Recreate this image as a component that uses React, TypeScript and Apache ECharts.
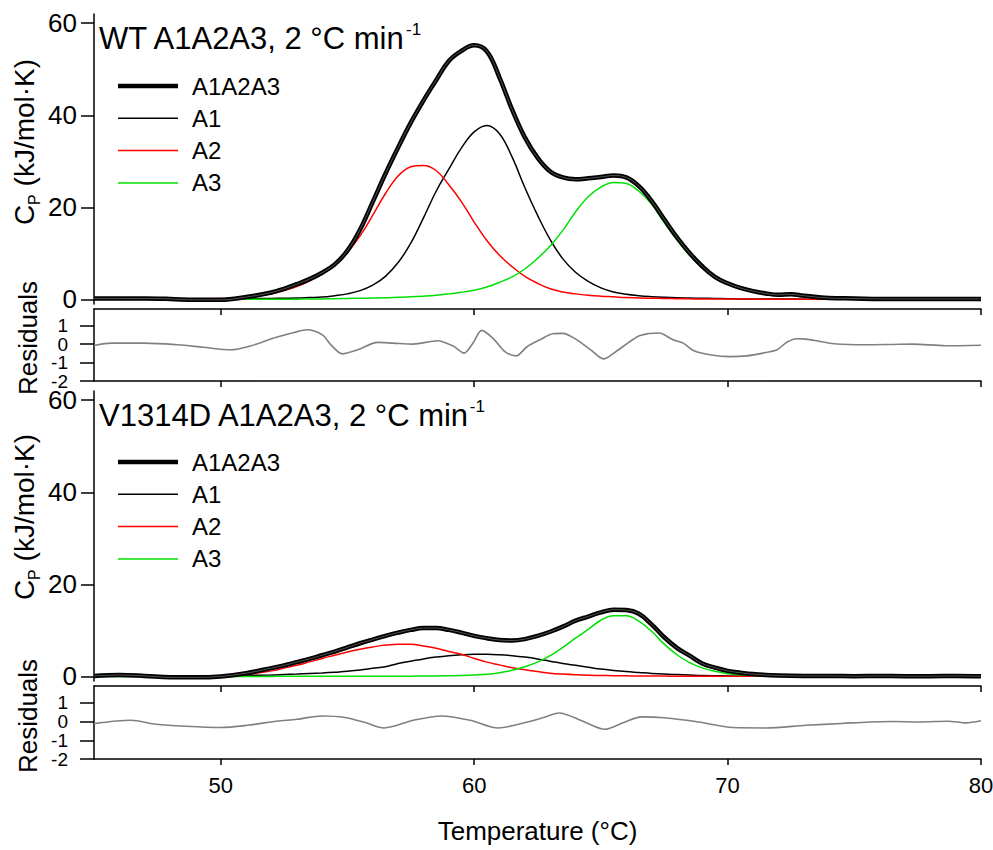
import React, { useEffect, useRef } from 'react';
import * as echarts from 'echarts';

const FONT = "'Liberation Sans', Arial, Helvetica, sans-serif";

// ---- tick labels ----
const xTicks = [50, 60, 70, 80];
const cpTicks = [0, 20, 40, 60];
const resTicks = [-2, -1, 0, 1];
const resLabelsOdd = [-1, 1];
const resLabelsEven = [-2, 0];
const legendNames = ['A1A2A3', 'A1', 'A2', 'A3'];
const panelTitles = ['WT A1A2A3, 2 °C min', 'V1314D A1A2A3, 2 °C min'];

// ---- WT panel (top) ----
const tWT = [45, 46, 47, 48, 49, 50, 51, 52, 52.5, 53, 53.5, 54, 54.5, 55, 55.5, 56, 56.5, 57, 57.5, 58, 58.5, 59, 59.5, 60, 60.5, 61, 61.5, 62, 62.5, 63, 63.5, 64, 64.5, 65, 65.5, 66, 66.5, 67, 67.5, 68, 68.5, 69, 69.5, 70, 70.5, 71, 71.5, 72, 72.5, 73, 74, 75, 76, 77, 78, 79, 80];
const wtTotal = [0.2, 0.2, 0.2, 0.1, -0.1, -0.1, 0.5, 1.5, 2.3, 3.3, 4.4, 5.8, 7.6, 10.6, 15.2, 21.2, 27.3, 33.0, 38.4, 43.2, 47.6, 51.8, 54.0, 55.2, 53.9, 48.2, 41.2, 35.2, 30.8, 27.8, 26.5, 26.1, 26.3, 26.6, 26.9, 26.5, 24.6, 21.4, 17.4, 13.5, 10.1, 7.2, 4.9, 3.5, 2.5, 1.8, 1.3, 1.0, 1.1, 0.8, 0.3, 0.2, 0.1, 0.1, 0.1, 0.1, 0.1];
const wtA1 = [0.1, 0.1, 0.1, 0.1, 0.1, 0.1, 0.15, 0.2, 0.25, 0.3, 0.4, 0.5, 0.8, 1.2, 1.9, 3.1, 5.0, 8.0, 12.2, 17.7, 23.5, 28.3, 32.9, 36.4, 37.8, 36.0, 30.9, 24.3, 18.3, 13.0, 8.8, 5.9, 3.9, 2.5, 1.6, 1.1, 0.8, 0.6, 0.45, 0.35, 0.3, 0.25, 0.2, 0.15, 0.1, 0.1, 0.1, 0.1, 0.08, 0.05, 0.05, 0.05, 0.05, 0.05, 0.05, 0.05, 0.05];
const wtA2 = [0.02, 0.03, 0.05, 0.08, 0.12, 0.2, 0.45, 1.2, 1.9, 2.8, 4.0, 5.5, 7.4, 10.2, 13.8, 18.3, 23.0, 26.8, 28.8, 29.1, 28.0, 24.9, 21.2, 16.8, 12.8, 9.6, 7.1, 5.0, 3.5, 2.3, 1.6, 1.2, 0.9, 0.7, 0.55, 0.4, 0.3, 0.25, 0.2, 0.15, 0.12, 0.1, 0.1, 0.08, 0.07, 0.06, 0.05, 0.05, 0.05, 0.05, 0.04, 0.04, 0.04, 0.04, 0.04, 0.04, 0.04];
const wtA3 = [0.02, 0.02, 0.02, 0.02, 0.02, 0.02, 0.02, 0.02, 0.03, 0.05, 0.08, 0.1, 0.15, 0.2, 0.25, 0.3, 0.35, 0.45, 0.55, 0.7, 0.9, 1.2, 1.55, 2.0, 2.7, 3.7, 4.9, 6.6, 8.9, 11.6, 15.0, 19.0, 22.3, 24.4, 25.4, 25.2, 23.5, 20.7, 16.7, 12.9, 9.6, 6.8, 4.7, 3.3, 2.4, 1.8, 1.4, 1.1, 0.9, 0.7, 0.4, 0.25, 0.15, 0.1, 0.08, 0.06, 0.05];
const wtResT = [45, 45.7, 47, 48.3, 49.3, 50.4, 51.2, 52.1, 52.9, 53.4, 54.0, 54.35, 54.8, 55.4, 56.2, 56.8, 57.6, 58.55, 59.2, 59.6, 59.95, 60.3, 60.8, 61.2, 61.65, 62.1, 62.6, 63.1, 63.5, 64.05, 64.6, 65.1, 65.6, 66.15, 66.55, 67.3, 67.85, 68.25, 68.65, 69.3, 70.1, 70.75, 71.4, 71.95, 72.35, 72.75, 73.1, 73.65, 74.3, 75.4, 76.5, 77.3, 78.6, 80];
const wtRes = [-0.08, 0.05, 0.05, -0.04, -0.17, -0.31, -0.09, 0.33, 0.63, 0.78, 0.51, -0.04, -0.53, -0.31, 0.09, 0.05, 0.0, 0.18, -0.13, -0.49, 0.05, 0.74, 0.23, -0.4, -0.64, -0.13, 0.23, 0.56, 0.58, 0.23, -0.31, -0.8, -0.4, 0.14, 0.47, 0.6, 0.23, 0.05, -0.35, -0.58, -0.68, -0.64, -0.49, -0.31, 0.11, 0.29, 0.27, 0.14, 0.0, -0.04, -0.02, 0.0, -0.09, -0.06];

// ---- V1314D panel (bottom) ----
const tV = [45, 46, 47, 48, 49, 50, 51, 52, 52.5, 53, 53.5, 54, 54.5, 55, 55.5, 56, 56.5, 57, 57.5, 58, 58.5, 59, 59.5, 60, 60.5, 61, 61.5, 62, 62.5, 63, 63.5, 64, 64.5, 65, 65.5, 66, 66.5, 67, 67.5, 68, 68.5, 69, 69.5, 70, 70.5, 71, 72, 73, 74, 75, 76, 77, 78, 79, 80];
const vTotal = [0.1, 0.3, 0.1, -0.2, -0.2, 0.0, 0.7, 1.8, 2.4, 3.1, 3.8, 4.6, 5.4, 6.3, 7.2, 8.0, 8.8, 9.5, 10.1, 10.5, 10.5, 10.1, 9.5, 8.8, 8.3, 7.9, 7.8, 8.1, 8.8, 9.7, 10.8, 12.1, 13.0, 13.9, 14.5, 14.4, 13.6, 11.3, 8.5, 6.2, 4.5, 2.8, 1.9, 1.2, 0.8, 0.5, 0.2, 0.1, 0.1, 0.05, 0.1, 0.05, 0.05, 0.1, 0.05];
const vA1 = [0.05, 0.05, 0.06, 0.07, 0.08, 0.1, 0.2, 0.3, 0.4, 0.5, 0.62, 0.75, 0.92, 1.1, 1.4, 1.75, 2.1, 2.8, 3.3, 3.8, 4.2, 4.5, 4.7, 4.8, 4.8, 4.7, 4.5, 4.2, 3.8, 3.3, 2.8, 2.4, 2.0, 1.6, 1.3, 1.05, 0.85, 0.65, 0.5, 0.4, 0.3, 0.2, 0.15, 0.12, 0.1, 0.08, 0.05, 0.05, 0.05, 0.05, 0.05, 0.05, 0.05, 0.05, 0.05];
const vA2 = [0.02, 0.02, 0.03, 0.04, 0.05, 0.1, 0.35, 1.2, 1.8, 2.4, 3.15, 3.9, 4.6, 5.3, 5.9, 6.4, 6.8, 7.0, 7.0, 6.6, 6.1, 5.4, 4.8, 3.9, 3.1, 2.5, 1.9, 1.45, 1.05, 0.7, 0.5, 0.35, 0.25, 0.2, 0.15, 0.12, 0.1, 0.08, 0.07, 0.05, 0.05, 0.05, 0.05, 0.05, 0.05, 0.05, 0.05, 0.05, 0.05, 0.05, 0.05, 0.05, 0.05, 0.05, 0.05];
const vA3 = [0.0, 0.0, 0.0, 0.0, 0.0, 0.0, 0.0, 0.0, 0.01, 0.01, 0.01, 0.01, 0.02, 0.02, 0.02, 0.03, 0.03, 0.04, 0.05, 0.08, 0.1, 0.15, 0.2, 0.3, 0.45, 0.8, 1.35, 2.1, 3.1, 4.5, 6.3, 8.3, 10.2, 12.2, 13.2, 13.2, 12.0, 9.8, 7.0, 4.7, 3.0, 1.85, 1.1, 0.6, 0.35, 0.2, 0.1, 0.05, 0.05, 0.05, 0.05, 0.05, 0.05, 0.05, 0.05];
const vResT = [45, 46.45, 47.45, 48.6, 50, 51.05, 52.2, 53.0, 54.0, 54.9, 55.7, 56.45, 57.6, 58.7, 59.85, 60.95, 62.1, 62.7, 63.35, 64.35, 65.15, 65.9, 66.6, 67.5, 68.85, 70.2, 71.5, 73.1, 74.5, 75.6, 76.5, 77.6, 78.7, 79.4, 80];
const vRes = [-0.11, 0.07, -0.14, -0.25, -0.32, -0.2, 0.02, 0.12, 0.3, 0.22, -0.05, -0.34, 0.07, 0.3, 0.07, -0.34, -0.02, 0.2, 0.46, -0.02, -0.41, -0.05, 0.25, 0.2, -0.02, -0.32, -0.34, -0.2, -0.1, -0.02, 0.0, -0.02, 0.02, -0.07, 0.04];

const pairs = (t: number[], v: number[]) => t.map((x, i) => [x, v[i]]);

const COLORS = { total: '#000000', a1: '#000000', a2: '#ff0000', a3: '#00e000', res: '#808080' };

function buildOption() {
  const L = 94, R = 12;
  const grids = [
    { left: L, right: R, top: 14, height: 290 },
    { left: L, right: R, top: 309, height: 72 },
    { left: L, right: R, top: 391, height: 290 },
    { left: L, right: R, top: 686, height: 73 },
  ].map((g) => ({ ...g, outerBoundsMode: 'none', containLabel: false }));

  const axisLine = { show: true, onZero: false, lineStyle: { color: '#000', width: 1.5 } };
  const tickStyle = { color: '#000', width: 1.5 };
  const baseX = {
    type: 'value', min: 45, max: 80, splitLine: { show: false },
    axisLine, axisLabel: { show: false },
  };
  const xAxis = [
    { ...baseX, gridIndex: 0, show: false },
    { ...baseX, gridIndex: 1, position: 'top', axisTick: { inside: true, length: 6, customValues: xTicks, lineStyle: tickStyle } },
    { ...baseX, gridIndex: 1, position: 'bottom', axisTick: { inside: false, length: 6, customValues: xTicks, lineStyle: tickStyle } },
    { ...baseX, gridIndex: 2, show: false },
    { ...baseX, gridIndex: 3, position: 'top', axisTick: { inside: true, length: 6, customValues: xTicks, lineStyle: tickStyle } },
    {
      ...baseX, gridIndex: 3, position: 'bottom',
      axisTick: { inside: false, length: 6, customValues: xTicks, lineStyle: tickStyle },
      axisLabel: { show: true, customValues: xTicks, fontSize: 22, fontFamily: FONT, color: '#000', margin: 15, showMinLabel: true, showMaxLabel: true },
      name: 'Temperature (°C)', nameLocation: 'middle', nameGap: 59,
      nameTextStyle: { fontSize: 26, fontFamily: FONT, color: '#000' },
    },
  ];
  const cpY = (g: number) => ({
    type: 'value', gridIndex: g, position: 'left', min: -1, max: 62, splitLine: { show: false }, axisLine,
    axisTick: { show: true, length: 13, customValues: cpTicks, lineStyle: tickStyle },
    axisLabel: { customValues: cpTicks, fontSize: 26, lineHeight: 20, fontFamily: FONT, color: '#000', margin: 17, showMinLabel: true, showMaxLabel: true },
  });
  // residual axis carrying the line, ticks and every other label
  const resY = (g: number) => ({
    type: 'value', gridIndex: g, position: 'left', offset: 0, min: -2, max: 1.9, splitLine: { show: false }, axisLine,
    axisTick: { show: true, length: 14, customValues: resTicks, lineStyle: tickStyle },
    axisLabel: {
      customValues: resLabelsOdd, fontSize: 19, lineHeight: 15, fontFamily: FONT, color: '#000', margin: 26,
      showMinLabel: true, showMaxLabel: true,
    },
  });
  // twin residual axis (same side) carrying the remaining labels
  const resY2 = (g: number) => ({
    type: 'value', gridIndex: g, position: 'left', offset: 0, min: -2, max: 1.9, splitLine: { show: false },
    axisLine: { show: false, onZero: false }, axisTick: { show: false },
    axisLabel: {
      customValues: resLabelsEven, fontSize: 19, lineHeight: 15, fontFamily: FONT, color: '#000', margin: 26,
      showMinLabel: true, showMaxLabel: true,
    },
  });
  const yAxis = [cpY(0), resY(1), resY2(1), cpY(2), resY(3), resY2(3)];

  const line = (name: string, data: number[][], xi: number, yi: number, color: string, width: number, z = 2, smooth = 0.4) => ({
    type: 'line', name, data, xAxisIndex: xi, yAxisIndex: yi,
    symbol: 'none', showSymbol: false, smooth, z,
    lineStyle: { color, width }, itemStyle: { color },
    emphasis: { disabled: true }, silent: true,
  });

  const panel = (t: number[], tot: number[], a1: number[], a2: number[], a3: number[], rt: number[], rv: number[], xi: number, yi: number, rxi: number, ryi: number) => [
    line('A1', pairs(t, a1), xi, yi, COLORS.a1, 1.5),
    line('A2', pairs(t, a2), xi, yi, COLORS.a2, 1.5),
    line('A3', pairs(t, a3), xi, yi, COLORS.a3, 1.5),
    line('A1A2A3', pairs(t, tot), xi, yi, COLORS.total, 4.5, 3),
    line('A1A2A3 replicate', pairs(t, tot), xi, yi, '#8a8a8a', 0.6, 4),
    line('Residuals', pairs(rt, rv), rxi, ryi, COLORS.res, 1.6, 2, 0.3),
  ];

  const series = [
    ...panel(tWT, wtTotal, wtA1, wtA2, wtA3, wtResT, wtRes, 0, 0, 1, 1),
    ...panel(tV, vTotal, vA1, vA2, vA3, vResT, vRes, 3, 3, 4, 4),
  ];

  const legendColors = [COLORS.total, COLORS.a1, COLORS.a2, COLORS.a3];
  const legendWidths = [4.5, 1.5, 1.5, 1.5];
  const legendGraphic = (y0: number) =>
    legendNames.flatMap((n, i) => [
      { type: 'line', shape: { x1: 118, y1: y0 + i * 32.3, x2: 178, y2: y0 + i * 32.3 }, style: { stroke: legendColors[i], lineWidth: legendWidths[i] } },
      { type: 'text', x: 192, y: y0 + i * 32.3, style: { text: n, fontSize: 24, fontFamily: FONT, fill: '#000', align: 'left', verticalAlign: 'middle' } },
    ]);

  const titleGraphic = (title: string, y: number) => ({
    type: 'text', x: 99, y,
    style: {
      text: `{a|${title}}{s|-1}`, align: 'left', verticalAlign: 'top',
      rich: {
        a: { fontSize: 31, fontFamily: FONT, fill: '#000', lineHeight: 34 },
        s: { fontSize: 17, fontFamily: FONT, fill: '#000', lineHeight: 15, verticalAlign: 'top' },
      },
    },
  });

  const cpName = (y: number) => ({
    type: 'text', x: 24, y, rotation: Math.PI / 2,
    style: {
      text: '{c|C}{p|P}{c| (kJ/mol·K)}', align: 'center', verticalAlign: 'middle',
      rich: {
        c: { fontSize: 28, fontFamily: FONT, fill: '#000', lineHeight: 36 },
        p: { fontSize: 16, fontFamily: FONT, fill: '#000', lineHeight: 12, verticalAlign: 'bottom' },
      },
    },
  });
  const resName = (y: number) => ({
    type: 'text', x: 28, y, rotation: Math.PI / 2,
    style: { text: 'Residuals', fontSize: 26, fontFamily: FONT, fill: '#000', align: 'center', verticalAlign: 'middle' },
  });

  return {
    animation: false,
    backgroundColor: '#ffffff',
    grid: grids,
    xAxis, yAxis, series,
    graphic: [
      titleGraphic(panelTitles[0], 21),
      titleGraphic(panelTitles[1], 398),
      ...legendGraphic(86),
      ...legendGraphic(462),
      cpName(142),
      cpName(517),
      resName(338),
      resName(716),
    ],
  };
}

export default function App() {
  const ref = useRef<HTMLDivElement>(null);
  useEffect(() => {
    if (!ref.current) return;
    const chart = echarts.init(ref.current, undefined, { renderer: 'svg' });
    chart.setOption(buildOption() as any);
    return () => chart.dispose();
  }, []);
  return <div ref={ref} style={{ position: 'absolute', left: 0, top: 0, width: 993, height: 850 }} />;
}
